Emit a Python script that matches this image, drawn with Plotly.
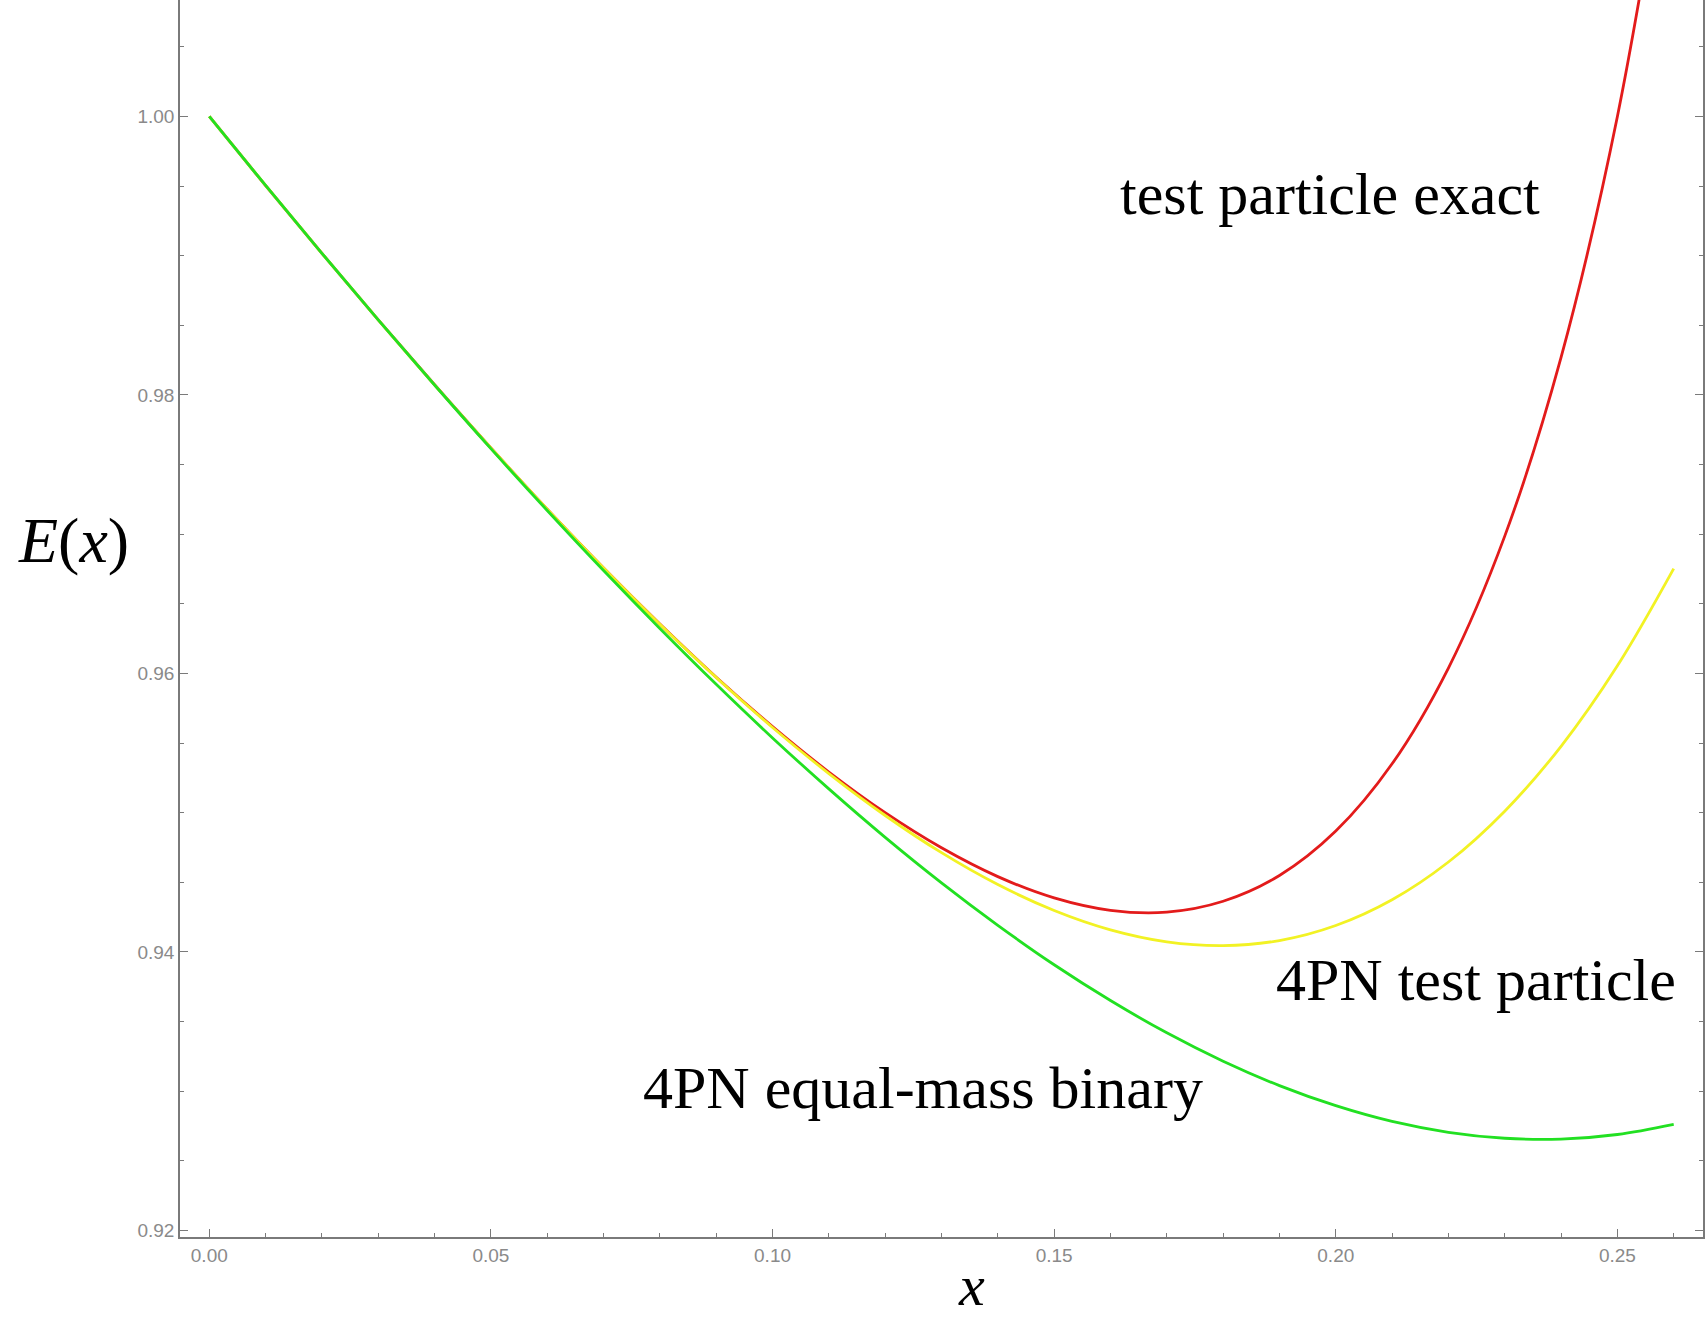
import plotly.graph_objects as go

# x grid (orbital frequency parameter)
x_vals = [0.00, 0.01, 0.02, 0.03, 0.04, 0.05, 0.06, 0.07, 0.08, 0.09,
          0.10, 0.11, 0.12, 0.13, 0.14, 0.15, 0.16, 0.17, 0.18, 0.19,
          0.20, 0.21, 0.22, 0.23, 0.24, 0.25, 0.26]

# test particle exact (red)
e_exact = [1.00000, 0.99503, 0.99016, 0.98539, 0.98073, 0.97619, 0.97179,
           0.96757, 0.96355, 0.95973, 0.95618, 0.95292, 0.95000, 0.94748,
           0.94541, 0.94388, 0.94299, 0.94286, 0.94364, 0.94549, 0.94868,
           0.95351, 0.96039, 0.96986, 0.98270, 1.00000, 1.02336]

# 4PN test particle (yellow)
e_4pn_tp = [1.00000, 0.99504, 0.99016, 0.98539, 0.98072, 0.97619, 0.97180,
            0.96757, 0.96353, 0.95971, 0.95612, 0.95281, 0.94980, 0.94713,
            0.94484, 0.94298, 0.94159, 0.94073, 0.94046, 0.94082, 0.94190,
            0.94375, 0.94646, 0.95011, 0.95477, 0.96055, 0.96753]

# 4PN equal-mass binary (green)
e_4pn_bin = [1.00000, 0.99504, 0.99017, 0.98539, 0.98071, 0.97614, 0.97170,
             0.96739, 0.96323, 0.95922, 0.95537, 0.95171, 0.94823, 0.94496,
             0.94191, 0.93908, 0.93651, 0.93419, 0.93215, 0.93040, 0.92896,
             0.92783, 0.92705, 0.92662, 0.92656, 0.92689, 0.92762]

series_names = ["test particle exact", "4PN test particle", "4PN equal-mass binary"]
series_colors = ["#e31b1b", "#f2f224", "#22e022"]

x_ticks = [0.00, 0.05, 0.10, 0.15, 0.20, 0.25]
x_ticklabels = ["0.00", "0.05", "0.10", "0.15", "0.20", "0.25"]
y_ticks = [0.92, 0.94, 0.96, 0.98, 1.00]
y_ticklabels = ["0.92", "0.94", "0.96", "0.98", "1.00"]

fig = go.Figure()
for name, ys, col in zip(series_names, [e_exact, e_4pn_tp, e_4pn_bin], series_colors):
    fig.add_trace(go.Scatter(x=x_vals, y=ys, mode="lines", name=name,
                             line=dict(color=col, width=2.8, shape="spline", smoothing=1.0)))

axis_gray = "#7a7a7a"
tick_font = dict(family="Liberation Sans, Arial, sans-serif", size=19, color="#8a8a8a")

fig.update_xaxes(range=[-0.0052, 0.2652], tickvals=x_ticks, ticktext=x_ticklabels,
                 showgrid=False, zeroline=False, showline=True, linecolor=axis_gray,
                 linewidth=1.5, ticks="inside", ticklen=8, tickwidth=1.2, tickcolor=axis_gray,
                 tickfont=tick_font, mirror=False, automargin=False,
                 minor=dict(dtick=0.01, tick0=0, ticks="inside", ticklen=4, tickwidth=1,
                            tickcolor=axis_gray, showgrid=False))
fig.update_yaxes(range=[0.91953, 1.00836], tickvals=y_ticks, ticktext=y_ticklabels,
                 showgrid=False, zeroline=False, showline=True, linecolor=axis_gray,
                 linewidth=1.5, ticks="inside", ticklen=8, tickwidth=1.2, tickcolor=axis_gray,
                 tickfont=tick_font, mirror="ticks", automargin=False,
                 minor=dict(dtick=0.005, tick0=0.92, ticks="inside", ticklen=4, tickwidth=1,
                            tickcolor=axis_gray, showgrid=False))

serif = "Liberation Serif, Times New Roman, serif"
label_font = dict(family=serif, size=60, color="black")
annotations = [
    dict(x=0.1990, y=0.9944, xref="x", yref="y", text="test particle exact"),
    dict(x=0.2249, y=0.9380, xref="x", yref="y", text="4PN test particle"),
    dict(x=0.1267, y=0.9302, xref="x", yref="y", text="4PN equal-mass binary"),
]
for a in annotations:
    fig.add_annotation(**a, showarrow=False, font=label_font, xanchor="center", yanchor="middle")

fig.add_annotation(x=-0.0696, y=0.5627, xref="paper", yref="paper",
                   text="<i>E</i>(<i>x</i>)", showarrow=False,
                   font=dict(family=serif, size=64, color="black"),
                   xanchor="center", yanchor="middle")
fig.add_annotation(x=0.520, y=-0.0395, xref="paper", yref="paper",
                   text="<i>x</i>", showarrow=False,
                   font=dict(family=serif, size=58, color="black"),
                   xanchor="center", yanchor="middle")

fig.update_layout(width=1706, height=1320, showlegend=False,
                  plot_bgcolor="white", paper_bgcolor="white",
                  margin=dict(l=180, r=3, t=0, b=83))

fig.write_html("out.html", config={"displayModeBar": False},
               post_script="document.body.style.margin='0px';document.body.style.overflow='hidden';")
